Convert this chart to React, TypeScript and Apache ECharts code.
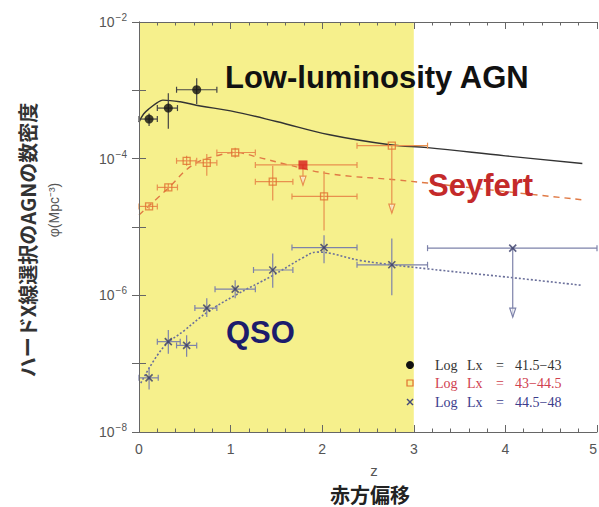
import React, { useEffect, useRef } from 'react';
import * as echarts from 'echarts';

// [z, phi, zLo, zHi, phiLo, phiHi, upperLimit]
const lowLumPoints = [
  [0.11, 3.8e-4, 0.0, 0.2, 3.0e-4, 4.6e-4, 0],
  [0.32, 5.5e-4, 0.2, 0.42, 2.75e-4, 9.1e-4, 0],
  [0.63, 1.02e-3, 0.41, 0.85, 6.3e-4, 1.5e-3, 0],
];
const seyfertPoints = [
  [0.11, 2.0e-5, 0.0, 0.2, 1.8e-5, 2.2e-5, 0],
  [0.32, 3.8e-5, 0.2, 0.42, 3.4e-5, 4.3e-5, 0],
  [0.52, 9.3e-5, 0.41, 0.63, 7.9e-5, 1.1e-4, 0],
  [0.74, 8.7e-5, 0.62, 0.85, 5.6e-5, 1.17e-4, 0],
  [1.05, 1.23e-4, 0.85, 1.27, 1.03e-4, 1.45e-4, 0],
  [1.46, 4.6e-5, 1.27, 1.68, 2.45e-5, 7.9e-5, 0],
  [2.02, 2.8e-5, 1.67, 2.38, 8.9e-6, 6.6e-5, 0],
  [2.76, 1.55e-4, 2.38, 3.15, 1.6e-5, 1.55e-4, 1],
];
const seyfertRedLimit = [[1.79, 8.1e-5, 1.27, 2.38, 4.1e-5, 8.1e-5, 1]];
const qsoPoints = [
  [0.11, 6.2e-8, 0.0, 0.21, 4.2e-8, 8.9e-8, 0],
  [0.32, 2.1e-7, 0.2, 0.45, 1.4e-7, 3.1e-7, 0],
  [0.52, 1.85e-7, 0.41, 0.63, 1.26e-7, 2.6e-7, 0],
  [0.74, 6.5e-7, 0.61, 0.85, 4.8e-7, 9.1e-7, 0],
  [1.05, 1.23e-6, 0.83, 1.27, 9.1e-7, 1.66e-6, 0],
  [1.46, 2.35e-6, 1.25, 1.68, 1.29e-6, 4.1e-6, 0],
  [2.02, 5.0e-6, 1.67, 2.38, 2.95e-6, 7.6e-6, 0],
  [2.76, 2.8e-6, 2.38, 3.15, 1.0e-6, 6.8e-6, 0],
  [4.08, 4.9e-6, 3.15, 5.0, 4.8e-7, 4.9e-6, 1],
];

const lowLumModelZ = [0.0, 0.05, 0.12, 0.2, 0.26, 0.45, 0.67, 1.0, 1.5, 2.08, 2.74, 3.15, 4.0, 4.84];
const lowLumModelPhi = [3.4e-4, 4.5e-4, 5.5e-4, 6.6e-4, 7.2e-4, 6.8e-4, 5.9e-4, 5.0e-4, 3.5e-4, 2.24e-4, 1.6e-4, 1.45e-4, 1.1e-4, 8.5e-5];
const seyfertModelZ = [0.0, 0.3, 0.6, 0.9, 1.05, 1.3, 1.6, 2.08, 2.8, 3.15, 4.0, 4.84];
const seyfertModelPhi = [1.5e-5, 3.5e-5, 8.3e-5, 1.15e-4, 1.23e-4, 1.05e-4, 8.3e-5, 6.0e-5, 4.9e-5, 4.4e-5, 3.3e-5, 2.5e-5];
const qsoModelZ = [0.02, 0.26, 0.5, 0.74, 1.05, 1.46, 1.79, 1.94, 2.44, 3.14, 4.0, 4.84];
const qsoModelPhi = [5.2e-8, 1.7e-7, 3.1e-7, 5.6e-7, 1.0e-6, 1.95e-6, 3.55e-6, 4.3e-6, 3.2e-6, 2.45e-6, 1.86e-6, 1.4e-6];

const xTicks = [0, 5, 1];
const yRange = [1e-8, 1e-2];
const highlightZ = [0, 3];
const legendRanges = ['41.5−43', '43−44.5', '44.5−48'];
const annotations = ['Low-luminosity AGN', 'Seyfert', 'QSO'];
const yTitle = 'ハードX線選択のAGNの数密度';
const yUnit = 'φ(Mpc⁻³)';
const xTitle = 'z';
const xTitleJa = '赤方偏移';

const zip = (a: number[], b: number[]) => a.map((v, i) => [v, b[i]]);

const makeErr = (color: string) => (params: any, api: any) => {
  const z = api.value(0), p = api.value(1), zl = api.value(2), zh = api.value(3);
  const pl = api.value(4), ph = api.value(5), lim = api.value(6);
  const L = api.coord([zl, p]);
  const R = api.coord([zh, p]);
  const B = api.coord([z, pl]);
  const T = api.coord([z, ph]);
  const st = { stroke: color, lineWidth: 1.2, fill: 'none' };
  const cap = 3;
  const children: any[] = [
    { type: 'line', shape: { x1: L[0], y1: L[1], x2: R[0], y2: R[1] }, style: st },
    { type: 'line', shape: { x1: L[0], y1: L[1] - cap, x2: L[0], y2: L[1] + cap }, style: st },
    { type: 'line', shape: { x1: R[0], y1: R[1] - cap, x2: R[0], y2: R[1] + cap }, style: st },
    { type: 'line', shape: { x1: B[0], y1: B[1], x2: T[0], y2: T[1] }, style: st },
  ];
  if (lim) {
    children.push({
      type: 'polygon',
      shape: { points: [[B[0] - 3, B[1] - 9], [B[0] + 3, B[1] - 9], [B[0], B[1]]] },
      style: { stroke: color, lineWidth: 1.2, fill: 'rgba(255,255,255,0.6)' },
    });
  }
  return { type: 'group', children };
};

const crossPath = 'path://M0,0L10,10M10,0L0,10';

export default function App() {
  const ref = useRef<HTMLDivElement>(null);
  useEffect(() => {
    if (!ref.current) return;
    const chart = echarts.init(ref.current, null, { renderer: 'svg' });
    const axisColor = '#666';
    const labelColor = '#555';
    const xAxisBase = {
      type: 'value',
      min: xTicks[0],
      max: xTicks[1],
      interval: xTicks[2],
      z: 10,
      axisLine: { show: true, lineStyle: { color: axisColor, width: 1 } },
      axisTick: { show: true, inside: true, length: 7, lineStyle: { color: axisColor } },
      minorTick: { show: true, splitNumber: 5, length: 3.5, lineStyle: { color: axisColor } },
      splitLine: { show: false },
    };
    const yAxisBase = {
      type: 'log',
      logBase: 10,
      min: yRange[0],
      max: yRange[1],
      splitNumber: 6,
      z: 10,
      axisLine: { show: true, lineStyle: { color: axisColor, width: 1 } },
      axisTick: { show: true, inside: true, length: 7, lineStyle: { color: axisColor } },
      splitLine: { show: false },
    };
    const Z = 100;
    const option: any = {
      animation: false,
      backgroundColor: '#ffffff',
      grid: { left: 139, right: 2, top: 22, bottom: 75, containLabel: false, outerBoundsMode: 'none' },
      xAxis: [
        {
          ...xAxisBase,
          position: 'bottom',
          axisLabel: {
            color: labelColor, fontSize: 14, margin: 10, fontFamily: 'Liberation Sans',
            alignMaxLabel: 'right',
          },
        },
        { ...xAxisBase, position: 'top', axisLabel: { show: false } },
      ],
      yAxis: [
        {
          ...yAxisBase,
          position: 'left',
          axisLabel: {
            margin: 12,
            formatter: (v: number) => {
              const e = Math.round(Math.log10(v));
              return e % 2 === 0 ? `{b|10}{s|−${Math.abs(e)}}` : '';
            },
            rich: {
              b: { fontSize: 14, color: labelColor, fontFamily: 'Liberation Sans' },
              s: { fontSize: 10, color: labelColor, fontFamily: 'Liberation Sans', padding: [0, 0, 9, 1] },
            },
          },
        },
        { ...yAxisBase, position: 'right', axisLabel: { show: false } },
      ],
      series: [
        {
          type: 'line',
          name: 'bg',
          data: [],
          z: 0,
          silent: true,
          markArea: {
            silent: true,
            itemStyle: { color: '#f6f08c' },
            data: [[{ xAxis: highlightZ[0], yAxis: yRange[0] }, { xAxis: highlightZ[1], yAxis: yRange[1] }]],
          },
        },
        {
          type: 'line', name: 'lowLumModel', data: zip(lowLumModelZ, lowLumModelPhi), smooth: 0.4,
          showSymbol: false, lineStyle: { color: '#333', width: 1.4 }, z: 3,
        },
        {
          type: 'line', name: 'seyfertModel', data: zip(seyfertModelZ, seyfertModelPhi), smooth: 0.4,
          showSymbol: false, lineStyle: { color: '#e07a45', width: 1.4, type: [6, 5] }, z: 3,
        },
        {
          type: 'line', name: 'qsoModel', data: zip(qsoModelZ, qsoModelPhi), smooth: 0.4,
          showSymbol: false, lineStyle: { color: '#6a6f9a', width: 1.6, type: [2, 2] }, z: 3,
        },
        { type: 'custom', name: 'lowErr', data: lowLumPoints, renderItem: makeErr('#444'), z: 4, encode: { x: 0, y: 1 } },
        { type: 'custom', name: 'seyErr', data: seyfertPoints, renderItem: makeErr('#e8904e'), z: 4, encode: { x: 0, y: 1 } },
        { type: 'custom', name: 'seyRedErr', data: seyfertRedLimit, renderItem: makeErr('#e8904e'), z: 4, encode: { x: 0, y: 1 } },
        { type: 'custom', name: 'qsoErr', data: qsoPoints, renderItem: makeErr('#7d82aa'), z: 4, encode: { x: 0, y: 1 } },
        {
          type: 'scatter', name: 'Log Lx = 41.5−43', data: lowLumPoints.map((d) => [d[0], d[1]]),
          symbol: 'circle', symbolSize: 9, itemStyle: { color: '#111' }, z: 6,
        },
        {
          type: 'scatter', name: 'Log Lx = 43−44.5', data: seyfertPoints.map((d) => [d[0], d[1]]),
          symbol: 'rect', symbolSize: 7,
          itemStyle: { color: 'rgba(255,255,255,0)', borderColor: '#e07030', borderWidth: 1.3 }, z: 6,
        },
        {
          type: 'scatter', name: 'red', data: seyfertRedLimit.map((d) => [d[0], d[1]]),
          symbol: 'rect', symbolSize: 9, itemStyle: { color: '#d81c1c' }, z: 6,
        },
        {
          type: 'scatter', name: 'Log Lx = 44.5−48', data: qsoPoints.map((d) => [d[0], d[1]]),
          symbol: crossPath, symbolSize: 7,
          itemStyle: { color: 'none', borderColor: '#363a66', borderWidth: 1.6 }, z: 6,
        },
      ],
      graphic: [
        {
          type: 'text', left: 225, top: 62, z: Z,
          style: { text: annotations[0], font: 'bold 31px "Liberation Sans"', fill: '#111' },
        },
        {
          type: 'text', left: 428, top: 170, z: Z,
          style: { text: annotations[1], font: 'bold 31px "Liberation Sans"', fill: '#c42a2a' },
        },
        {
          type: 'text', left: 226, top: 317, z: Z,
          style: { text: annotations[2], font: 'bold 31px "Liberation Sans"', fill: '#1c1c6c' },
        },
        {
          type: 'text', x: 27, y: 240, rotation: Math.PI / 2, z: Z,
          style: {
            text: yTitle, font: 'bold 20px "Noto Sans CJK JP"', fill: '#333',
            textAlign: 'center', textVerticalAlign: 'middle',
          },
        },
        {
          type: 'text', x: 54, y: 210, rotation: Math.PI / 2, z: Z,
          style: {
            text: yUnit, font: '14px "Liberation Sans"', fill: '#555',
            textAlign: 'center', textVerticalAlign: 'middle',
          },
        },
        {
          type: 'text', x: 374, y: 470, z: Z,
          style: { text: xTitle, font: '15px "Liberation Sans"', fill: '#555', textAlign: 'center', textVerticalAlign: 'middle' },
        },
        {
          type: 'text', x: 370, y: 494, z: Z,
          style: { text: xTitleJa, font: 'bold 20px "Noto Sans CJK JP"', fill: '#222', textAlign: 'center', textVerticalAlign: 'middle' },
        },
        // legend
        { type: 'circle', z: Z, shape: { cx: 410, cy: 365, r: 4 }, style: { fill: '#111' } },
        { type: 'rect', z: Z, shape: { x: 407, y: 380, width: 6, height: 6 }, style: { fill: 'none', stroke: '#e07030', lineWidth: 1.2 } },
        { type: 'line', z: Z, shape: { x1: 407, y1: 399, x2: 413, y2: 405 }, style: { stroke: '#454a7a', lineWidth: 1.4 } },
        { type: 'line', z: Z, shape: { x1: 413, y1: 399, x2: 407, y2: 405 }, style: { stroke: '#454a7a', lineWidth: 1.4 } },
        ...legendRanges.flatMap((r, i) => {
          const y = 365 + i * 18.5;
          const fill = ['#333', '#d0404e', '#3c3c8c'][i];
          const f = '14px "Liberation Serif"';
          return [
            { type: 'text', z: Z, x: 435, y, style: { text: 'Log', font: f, fill, textVerticalAlign: 'middle' } },
            { type: 'text', z: Z, x: 467, y, style: { text: 'Lx', font: f, fill, textVerticalAlign: 'middle' } },
            { type: 'text', z: Z, x: 496, y, style: { text: '=', font: f, fill, textVerticalAlign: 'middle' } },
            { type: 'text', z: Z, x: 515, y, style: { text: r, font: f, fill, textVerticalAlign: 'middle' } },
          ];
        }),
      ],
    };
    chart.setOption(option);
    return () => chart.dispose();
  }, []);
  return <div ref={ref} style={{ position: 'fixed', left: 0, top: 0, width: 599, height: 507 }} />;
}
